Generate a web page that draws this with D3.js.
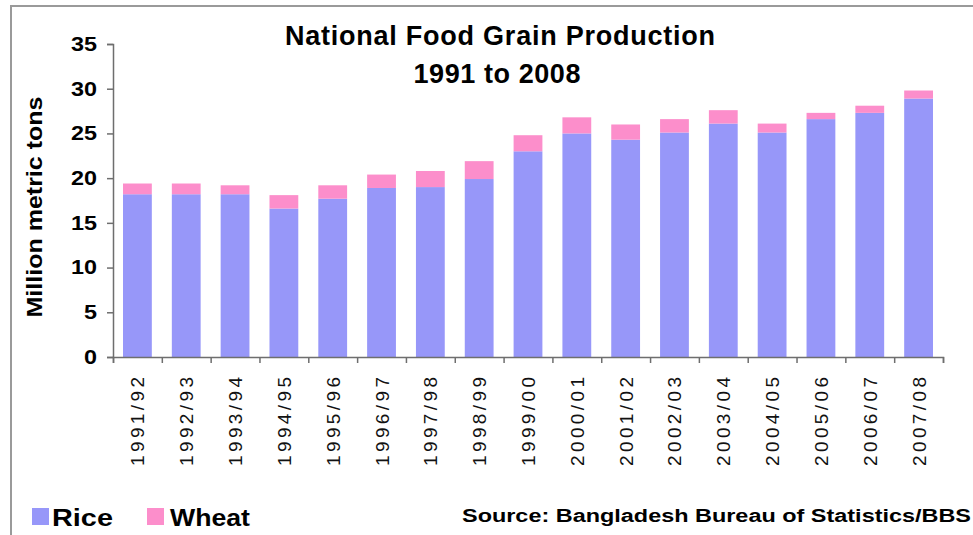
<!DOCTYPE html>
<html>
<head>
<meta charset="utf-8">
<script src="https://cdn.jsdelivr.net/npm/d3@7"></script>
<style>
  body { margin: 0; background: #fff; }
  svg { display: block; font-family: "Liberation Sans", Arial, sans-serif; }
</style>
</head>
<body>
<div class="container"></div>
<script>
const years = ["1991/92", "1992/93", "1993/94", "1994/95", "1995/96", "1996/97", "1997/98", "1998/99", "1999/00",
    "2000/01", "2001/02", "2002/03", "2003/04", "2004/05", "2005/06", "2006/07", "2007/08"];
const rice = [18.2, 18.2, 18.2, 16.6, 17.7, 18.9, 19.0, 19.9, 23.0, 25.0, 24.3, 25.1, 26.1, 25.1, 26.6, 27.3, 28.9];
const wheat = [1.2, 1.2, 1.0, 1.5, 1.5, 1.5, 1.8, 2.0, 1.8, 1.8, 1.7, 1.5, 1.5, 1.0, 0.7, 0.8, 0.9];
const seriesNames = ["Rice", "Wheat"];
const yTicks = [0, 5, 10, 15, 20, 25, 30, 35];

const drawChart = () => {
    const w = 973, h = 535,
        padding = { top: 44, bottom: 178, left: 113, right: 30 },
        colors = { Rice: "#9797f9", Wheat: "#fc8ecb" };

    const table = years.map((y, i) => ({ year: y, Rice: rice[i], Wheat: wheat[i] }));
    const stacked = d3.stack().keys(seriesNames)(table);

    const xScale = d3.scaleBand()
        .domain(years)
        .range([padding.left, w - padding.right])
        .paddingInner(0.41)
        .paddingOuter(0.205);

    const yScale = d3.scaleLinear()
        .domain([0, 35])
        .range([h - padding.bottom, padding.top]);

    // tick marks sit between categories, like Excel
    const edgeScale = d3.scaleLinear()
        .domain([0, years.length])
        .range([padding.left, w - padding.right]);

    const svg = d3.select("div.container")
        .append("svg")
        .attr("width", w)
        .attr("height", h);

    svg.append("rect").attr("width", w).attr("height", h).attr("fill", "#fff");

    // frame of the picture (top and left only visible)
    svg.append("path")
        .attr("d", "M11," + h + "V6H" + w)
        .attr("fill", "none")
        .attr("stroke", "#9a9a9a")
        .attr("stroke-width", 2);

    svg.selectAll("g.series")
        .data(stacked)
        .enter()
        .append("g")
        .attr("class", "series")
        .attr("fill", d => colors[d.key])
        .selectAll("rect")
        .data(d => d)
        .enter()
        .append("rect")
        .attr("x", d => xScale(d.data.year))
        .attr("width", xScale.bandwidth())
        .attr("y", d => yScale(d[1]))
        .attr("height", d => yScale(d[0]) - yScale(d[1]));

    const yAxis = d3.axisLeft(yScale)
        .tickValues(yTicks)
        .tickSize(6)
        .tickPadding(10);

    const gy = svg.append("g")
        .attr("id", "y-axis")
        .attr("transform", "translate(" + padding.left + ",0)")
        .call(yAxis);
    gy.selectAll("text")
        .attr("font-size", 20)
        .attr("font-weight", "bold")
        .attr("font-family", "Liberation Sans, Arial, sans-serif")
        .attr("fill", "#000")
        .attr("textLength", d => String(d).length * 13)
        .attr("lengthAdjust", "spacingAndGlyphs");

    const xEdges = d3.axisBottom(edgeScale)
        .tickValues(d3.range(years.length + 1))
        .tickFormat("")
        .tickSize(6);

    const gx = svg.append("g")
        .attr("id", "x-axis")
        .attr("transform", "translate(0," + (h - padding.bottom) + ")")
        .call(xEdges);

    [gx, gy].forEach(g => {
        g.select(".domain").attr("stroke", "#6e6e6e").attr("stroke-width", 1.5);
        g.selectAll(".tick line").attr("stroke", "#6e6e6e").attr("stroke-width", 1.5);
    });

    svg.append("g")
        .selectAll("text")
        .data(years)
        .enter()
        .append("text")
        .attr("transform", d => "translate(" + (xScale(d) + xScale.bandwidth() / 2 + 7) + "," + (h - padding.bottom + 20) + ") rotate(-90)")
        .attr("text-anchor", "end")
        .attr("font-size", 19)
        .attr("fill", "#111")
        .attr("textLength", 89)
        .attr("lengthAdjust", "spacing")
        .text(d => d);

    svg.append("text")
        .attr("x", 500)
        .attr("y", 45)
        .attr("text-anchor", "middle")
        .attr("font-size", 27)
        .attr("font-weight", "bold")
        .attr("textLength", 430)
        .attr("lengthAdjust", "spacing")
        .text("National Food Grain Production");

    svg.append("text")
        .attr("x", 497)
        .attr("y", 83)
        .attr("text-anchor", "middle")
        .attr("font-size", 27)
        .attr("font-weight", "bold")
        .attr("textLength", 167)
        .attr("lengthAdjust", "spacing")
        .text("1991 to 2008");

    svg.append("text")
        .attr("transform", "translate(42,207) rotate(-90)")
        .attr("text-anchor", "middle")
        .attr("font-size", 22)
        .attr("font-weight", "bold")
        .attr("textLength", 221)
        .attr("lengthAdjust", "spacingAndGlyphs")
        .text("Million metric tons");

    // legend
    const legendX = [32, 147], legendW = [61, 80];
    const legend = svg.append("g")
        .selectAll("g")
        .data(seriesNames)
        .enter()
        .append("g")
        .attr("transform", (d, i) => "translate(" + legendX[i] + ",508)");
    legend.append("rect")
        .attr("width", 17)
        .attr("height", 17)
        .attr("fill", d => colors[d]);
    legend.append("text")
        .attr("x", (d, i) => i === 0 ? 20 : 23)
        .attr("y", 18)
        .attr("font-size", 23)
        .attr("font-weight", "bold")
        .attr("textLength", (d, i) => legendW[i])
        .attr("lengthAdjust", "spacingAndGlyphs")
        .text(d => d);

    svg.append("text")
        .attr("x", 462)
        .attr("y", 522)
        .attr("font-size", 18)
        .attr("font-weight", "bold")
        .attr("textLength", 509)
        .attr("lengthAdjust", "spacingAndGlyphs")
        .text("Source: Bangladesh Bureau of Statistics/BBS");
};

drawChart();
</script>
</body>
</html>
